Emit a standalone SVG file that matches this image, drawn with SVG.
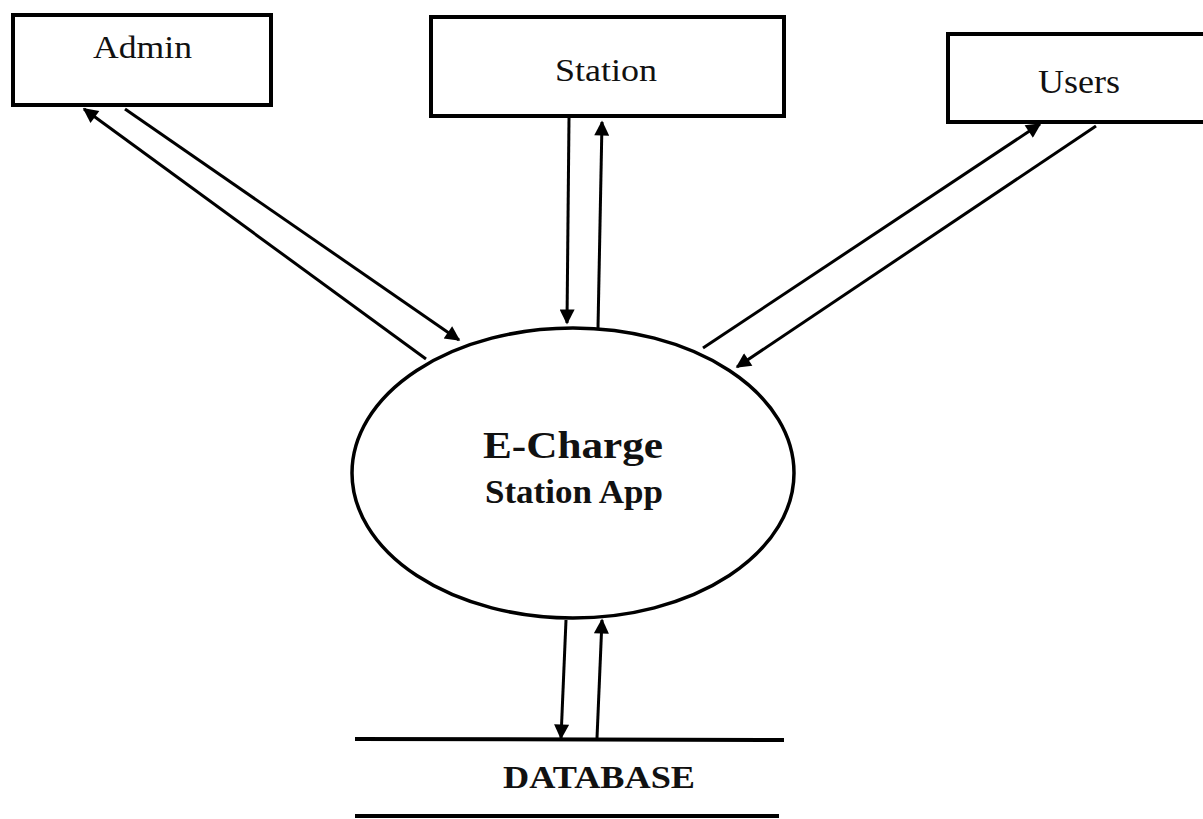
<svg xmlns="http://www.w3.org/2000/svg" width="1203" height="819" viewBox="0 0 1203 819">
  <style>
    .box { fill: #fff; stroke: #000; stroke-width: 4; }
    .flow { stroke: #000; stroke-width: 3; fill: none; marker-end: url(#head); }
    .label { font-family: "Liberation Serif", "Times New Roman", serif; fill: #111; }
    .bold { font-weight: bold; }
    .rule { stroke: #000; stroke-width: 4; }
  </style>
  <defs>
    <marker id="head" viewBox="0 0 10 10" refX="9" refY="5" markerWidth="6" markerHeight="5" orient="auto" markerUnits="strokeWidth">
      <path d="M0,0 L10,5 L0,10 Z" fill="#000"/>
    </marker>
  </defs>
  <rect width="1203" height="819" fill="#fff"/>

  <g id="admin">
    <rect class="box" x="13" y="15" width="258" height="90"/>
    <text class="label" x="93" y="58" font-size="32" textLength="99" lengthAdjust="spacingAndGlyphs">Admin</text>
  </g>

  <g id="station">
    <rect class="box" x="431" y="17" width="353" height="99"/>
    <text class="label" x="555" y="81" font-size="32" textLength="102" lengthAdjust="spacingAndGlyphs">Station</text>
  </g>

  <g id="users">
    <rect class="box" x="948" y="34" width="260" height="88"/>
    <text class="label" x="1038" y="93" font-size="33" textLength="82" lengthAdjust="spacingAndGlyphs">Users</text>
  </g>

  <g id="app">
    <ellipse cx="573" cy="473" rx="221" ry="145" fill="#fff" stroke="#000" stroke-width="3.5"/>
    <text class="label bold" x="483" y="458" font-size="37" textLength="180" lengthAdjust="spacingAndGlyphs">E-Charge</text>
    <text class="label bold" x="485" y="503" font-size="33" textLength="178" lengthAdjust="spacingAndGlyphs">Station App</text>
  </g>

  <g id="database">
    <line class="rule" x1="355" y1="739" x2="784" y2="740"/>
    <line class="rule" x1="355" y1="816" x2="779" y2="816"/>
    <text class="label bold" x="503" y="788" font-size="32" textLength="192" lengthAdjust="spacingAndGlyphs">DATABASE</text>
  </g>

  <g id="connectors">
    <line class="flow" x1="426" y1="359" x2="84" y2="109"/>
    <line class="flow" x1="125" y1="109" x2="459" y2="340"/>
    <line class="flow" x1="569" y1="118" x2="567" y2="323"/>
    <line class="flow" x1="598" y1="328" x2="602" y2="122"/>
    <line class="flow" x1="703" y1="348" x2="1040" y2="124"/>
    <line class="flow" x1="1096" y1="126" x2="737" y2="367"/>
    <line class="flow" x1="566" y1="620" x2="561" y2="738"/>
    <line class="flow" x1="597" y1="738" x2="602" y2="620"/>
  </g>
</svg>
